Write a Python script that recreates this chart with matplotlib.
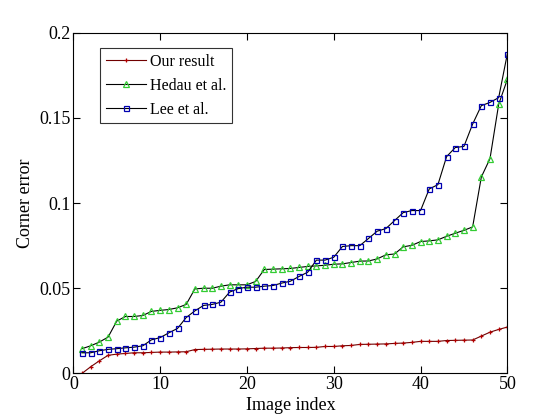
import numpy as np
import matplotlib
matplotlib.use("Agg")
import matplotlib.pyplot as plt

plt.rcParams['font.family'] = ['Liberation Serif', 'DejaVu Serif']
plt.rcParams['font.size'] = 12

# image index 1..50
idx = np.arange(1, 51)

our_result = [0.0, 0.0039, 0.0074, 0.0106, 0.0113, 0.0117, 0.0121, 0.0121, 0.0123, 0.0125,
              0.0125, 0.0126, 0.0127, 0.0140, 0.0141, 0.0142, 0.0143, 0.0143, 0.0143, 0.0144,
              0.0146, 0.0148, 0.0148, 0.0149, 0.0151, 0.0152, 0.0152, 0.0153, 0.0158, 0.0158,
              0.0162, 0.0164, 0.0170, 0.0171, 0.0172, 0.0173, 0.0176, 0.0178, 0.0182, 0.0188,
              0.0188, 0.0188, 0.0193, 0.0194, 0.0195, 0.0196, 0.0219, 0.0242, 0.0258, 0.0272]

hedau = [0.0145, 0.0162, 0.0184, 0.0213, 0.0307, 0.0334, 0.0334, 0.0340, 0.0364, 0.0370,
         0.0375, 0.0385, 0.0405, 0.0496, 0.0500, 0.0500, 0.0512, 0.0520, 0.0520, 0.0520,
         0.0540, 0.0610, 0.0612, 0.0614, 0.0616, 0.0622, 0.0628, 0.0631, 0.0635, 0.0641,
         0.0643, 0.0651, 0.0659, 0.0660, 0.0672, 0.0696, 0.0701, 0.0743, 0.0752, 0.0774,
         0.0778, 0.0784, 0.0805, 0.0823, 0.0840, 0.0860, 0.1153, 0.1261, 0.1580, 0.1726]

lee = [0.0121, 0.0121, 0.0133, 0.0141, 0.0145, 0.0150, 0.0154, 0.0162, 0.0197, 0.0210,
       0.0238, 0.0264, 0.0328, 0.0367, 0.0399, 0.0405, 0.0418, 0.0477, 0.0498, 0.0506,
       0.0506, 0.0512, 0.0516, 0.0530, 0.0541, 0.0569, 0.0594, 0.0665, 0.0665, 0.0682,
       0.0745, 0.0750, 0.0750, 0.0792, 0.0835, 0.0850, 0.0897, 0.0944, 0.0956, 0.0956,
       0.1083, 0.1108, 0.1273, 0.1326, 0.1333, 0.1464, 0.1572, 0.1591, 0.1619, 0.1877]

fig = plt.figure(figsize=(5.6, 4.2), dpi=100)
ax = fig.add_axes([0.131, 0.111, 0.775, 0.811])

ax.plot(idx, our_result, color='#700000', lw=0.8, marker='+', ms=3.5,
        mec='#b00000', mew=0.9, label='Our result')
ax.plot(idx, hedau, color='black', lw=0.8, marker='^', ms=4,
        mfc='none', mec='#33cc33', mew=0.9, label='Hedau et al.')
ax.plot(idx, lee, color='black', lw=0.8, marker='s', ms=3.6,
        mfc='none', mec='#0000b0', mew=0.9, label='Lee et al.')

ax.set_xlim(0, 50)
ax.set_ylim(0, 0.2)
ax.set_xticks([0, 10, 20, 30, 40, 50])
ax.set_yticks([0, 0.05, 0.1, 0.15, 0.2])
ax.set_yticklabels(['0', '0.05', '0.1', '0.15', '0.2'])
ax.tick_params(direction='in', top=True, right=True, length=5, width=0.8,
               labelsize=13, pad=2)
for s in ax.spines.values():
    s.set_linewidth(0.8)

ax.set_xlabel('Image index', fontsize=13, labelpad=3)
ax.set_ylabel('Corner error', fontsize=13, labelpad=4)

leg = ax.legend(loc='upper left', bbox_to_anchor=(0.062, 0.955), fontsize=11.5,
                frameon=True, fancybox=False, edgecolor='black',
                handlelength=2.5, handletextpad=0.25, labelspacing=0.5,
                borderpad=0.35, borderaxespad=0)
leg.get_frame().set_linewidth(0.8)

fig.savefig('out.png', dpi=100)
